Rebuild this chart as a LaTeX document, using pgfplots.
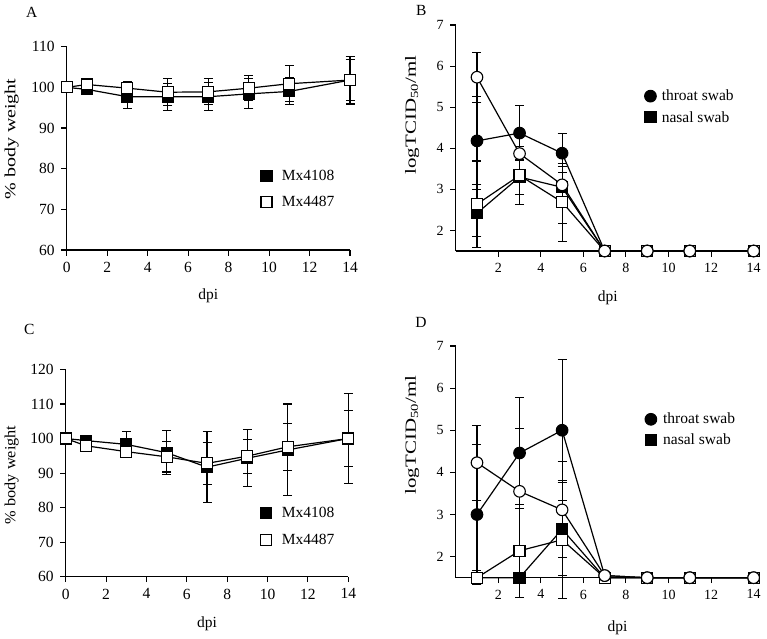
\documentclass[border=0pt]{standalone}
\usepackage{fontspec}
\setmainfont{Liberation Serif}
\usepackage{graphicx}
\usepackage{pgfplots}
\usepackage{pgfplotstable}
\pgfplotsset{compat=1.18}
\newcommand\fA{\fontsize{15.5}{18}\selectfont}
\newcommand\fB{\fontsize{14}{16}\selectfont}
% ---- data: x, mean, error
\pgfplotstableread{
x y e
0 100 0
1 99.5 0.4
3 97.7 2.8
5 97.7 3.3
7 97.7 3.5
9 98.4 3.7
11 99.0 3.3
14 101.8 5.9
}\Af
\pgfplotstableread{
x y e
0 100 0
1 100.7 0.4
3 99.8 1.6
5 98.8 3.3
7 98.9 3.2
9 99.8 3.1
11 100.9 4.4
14 101.8 5.1
}\Ao
\pgfplotstableread{
x y e
1 2.42 0.57
3 3.30 0.43
5 3.05 0.87
7 1.5 0
9 1.5 0
11 1.5 0
14 1.5 0
}\Bfs
\pgfplotstableread{
x y e
1 2.64 1.05
3 3.34 0.71
5 2.69 0.95
7 1.5 0
9 1.5 0
11 1.5 0
14 1.5 0
}\Bos
\pgfplotstableread{
x y e
1 4.18 1.07
3 4.37 0.66
5 3.88 0.47
7 1.5 0
9 1.5 0
11 1.5 0
14 1.5 0
}\Bfc
\pgfplotstableread{
x y e
1 5.73 0.61
3 3.87 0.40
5 3.11 0.45
7 1.5 0
9 1.5 0
11 1.5 0
14 1.5 0
}\Boc
\pgfplotstableread{
x y e
0 100 0
1 99.4 0.5
3 98.3 3.7
5 95.9 6.4
7 91.7 10.2
9 94.3 8.3
11 96.7 13.3
14 100 13.0
}\Cf
\pgfplotstableread{
x y e
0 100 0
1 97.9 0.5
3 96.2 1.5
5 94.7 4.4
7 92.8 6.0
9 94.9 4.9
11 97.6 6.8
14 100 8.0
}\Co
\pgfplotstableread{
x y e
1 1.5 0
3 1.5 0
5 2.65 1.1
7 1.5 0
9 1.5 0
11 1.5 0
14 1.5 0
}\Dfs
\pgfplotstableread{
x y e
1 1.5 0.17
3 2.14 1.1
5 2.40 1.4
7 1.5 0
9 1.5 0
11 1.5 0
14 1.5 0
}\Dos
\pgfplotstableread{
x y e
1 3.0 1.67
3 4.46 1.32
5 5.0 1.67
7 1.55 0
9 1.5 0
11 1.5 0
14 1.5 0
}\Dfc
\pgfplotstableread{
x y e
1 4.23 0.89
3 3.55 1.5
5 3.11 1.14
7 1.55 0
9 1.5 0
11 1.5 0
14 1.5 0
}\Doc
\pgfplotsset{
  base/.style={scale only axis, anchor=south west, axis lines=left,
    axis line style={-, line width=1.1pt, black},
    tick align=outside, major tick length=5.5pt,
    tick style={line width=1.1pt, black}, minor tick num=0,
    /pgf/number format/assume math mode=true, clip=false,
    legend cell align=left,
    legend image code/.code={\draw[##1] plot coordinates {(0pt,0pt)};},
    label style={font=\fA},
    xlabel style={at={(axis description cs:0.5,0)}, anchor=center},
    ylabel style={anchor=center},
  },
  eb/.style={draw=none, mark=none, forget plot,
    error bars/y dir=both, error bars/y explicit,
    error bars/error bar style={draw=black, line width=1.1pt, solid},
    error bars/error mark options={rotate=90, mark size=4.5pt, draw=black, line width=1.1pt, solid}},
  ln/.style={black, line width=1.2pt, forget plot},
  fsq/.style={ln, mark=square*, mark size=5.5pt, mark options={fill=black, draw=black, line width=1.1pt, solid}},
  osq/.style={ln, mark=square*, mark size=5.5pt, mark options={fill=white, draw=black, line width=1.1pt, solid}},
  fci/.style={ln, mark=*, mark size=5.8pt, mark options={fill=black, draw=black, line width=1.1pt, solid}},
  oci/.style={ln, mark=*, mark size=5.8pt, mark options={fill=white, draw=black, line width=1.1pt, solid}},
  lfsq/.style={only marks, mark=square*, mark size=5.5pt, mark options={fill=black, draw=black, line width=1.1pt}},
  losq/.style={only marks, mark=square*, mark size=5.5pt, mark options={fill=white, draw=black, line width=1.1pt}},
  lfci/.style={only marks, mark=*, mark size=5.8pt, mark options={fill=black, draw=black, line width=1.1pt}},
}
\newcommand\ebplot[1]{\addplot[eb] table[x=x, y=y, y error=e] {#1};}
\newcommand\lnplot[2]{\addplot[#1] table[x=x, y=y] {#2};}
\begin{document}
\begin{tikzpicture}
\useasboundingbox (0,0) rectangle (767pt,638pt);
% ---------------- A
\begin{axis}[base, at={(66.7pt,388pt)}, width=283.3pt, height=203.3pt,
  xmin=0, xmax=14, ymin=60, ymax=110,
  xtick={0,2,...,14}, ytick={60,70,...,110},
  xticklabel style={font=\fA, yshift=-3pt}, yticklabel style={font=\fA, xshift=-3pt},
  xlabel={dpi}, xlabel style={yshift=-46pt},
  ylabel={\scalebox{1.29}[1]{\% body weight}},
  ylabel style={at={(axis description cs:-0.194,0.546)}},
  legend style={draw=none, fill=none, font=\fA, inner sep=0pt, at={(axis cs:9.59,75.0)}, anchor=west,
    nodes={inner sep=0pt}, row sep=13.5pt, column sep=10pt}]
\addlegendimage{lfsq}\addlegendentry{Mx4108}
\addlegendimage{losq}\addlegendentry{Mx4487}
\ebplot{\Af}\ebplot{\Ao}
\lnplot{fsq}{\Af}\lnplot{osq}{\Ao}
\end{axis}
% ---------------- B
\begin{axis}[base, at={(455.7pt,387pt)}, width=304.3pt, height=226pt,
  xmin=0, xmax=14.3, ymin=1.5, ymax=7,
  xtick={2,4,...,14}, ytick={2,...,7},
  xticklabel style={font=\fB, yshift=-3pt}, yticklabel style={font=\fB, xshift=-3pt},
  xlabel={dpi}, xlabel style={yshift=-47pt},
  ylabel={\fA\scalebox{1.35}[1]{logTCID\textsubscript{50}/ml}},
  ylabel style={at={(axis description cs:-0.143,0.602)}},
  legend style={draw=none, fill=none, font=\fA, inner sep=0pt, at={(axis cs:8.87,5.01)}, anchor=west,
    nodes={inner sep=0pt}, row sep=9pt, column sep=5.5pt}]
\addlegendimage{lfci}\addlegendentry{throat swab}
\addlegendimage{lfsq}\addlegendentry{nasal swab}
\ebplot{\Bfs}\ebplot{\Bos}\ebplot{\Bfc}\ebplot{\Boc}
\lnplot{fsq}{\Bfs}\lnplot{osq}{\Bos}\lnplot{fci}{\Bfc}\lnplot{oci}{\Boc}
\end{axis}
% ---------------- C
\begin{axis}[base, at={(65.7pt,61.3pt)}, width=282.6pt, height=207.3pt,
  xmin=0, xmax=14, ymin=60, ymax=120,
  xtick={0,2,...,14}, ytick={60,70,...,120},
  xticklabel style={font=\fA, yshift=-3pt}, yticklabel style={font=\fA, xshift=-3pt},
  xlabel={dpi}, xlabel style={yshift=-47.3pt},
  ylabel={\scalebox{1.05}[1]{\% body weight}},
  ylabel style={at={(axis description cs:-0.191,0.491)}},
  legend style={draw=none, fill=none, font=\fA, inner sep=0pt, at={(axis cs:9.66,74.6)}, anchor=west,
    nodes={inner sep=0pt}, row sep=15.5pt, column sep=10pt}]
\addlegendimage{lfsq}\addlegendentry{Mx4108}
\addlegendimage{losq}\addlegendentry{Mx4487}
\ebplot{\Cf}\ebplot{\Co}
\lnplot{fsq}{\Cf}\lnplot{osq}{\Co}
\end{axis}
% ---------------- D
\begin{axis}[base, at={(455.7pt,60.3pt)}, width=304.3pt, height=231.7pt,
  xmin=0, xmax=14.3, ymin=1.5, ymax=7,
  xtick={2,4,...,14}, ytick={2,...,7},
  xticklabel style={font=\fB, yshift=-3pt}, yticklabel style={font=\fB, xshift=-3pt},
  xlabel={dpi}, xlabel style={at={(axis description cs:0.532,0)}, yshift=-49.6pt},
  ylabel={\fA\scalebox{1.35}[1]{logTCID\textsubscript{50}/ml}},
  ylabel style={at={(axis description cs:-0.143,0.616)}},
  legend style={draw=none, fill=none, font=\fA, inner sep=0pt, at={(axis cs:8.89,5.01)}, anchor=west,
    nodes={inner sep=0pt}, row sep=8.8pt, column sep=6.5pt}]
\addlegendimage{lfci}\addlegendentry{throat swab}
\addlegendimage{lfsq}\addlegendentry{nasal swab}
\ebplot{\Dfs}\ebplot{\Dos}\ebplot{\Dfc}\ebplot{\Doc}
\lnplot{fsq}{\Dfs}\lnplot{osq}{\Dos}\lnplot{fci}{\Dfc}\lnplot{oci}{\Doc}
\end{axis}
% panel letters
\node[font=\fA] at (31.7pt,625.3pt) {A};
\node[font=\fA] at (421.3pt,628pt) {B};
\node[font=\fA] at (29.3pt,308.7pt) {C};
\node[font=\fA] at (421pt,316pt) {D};
\end{tikzpicture}
\end{document}
